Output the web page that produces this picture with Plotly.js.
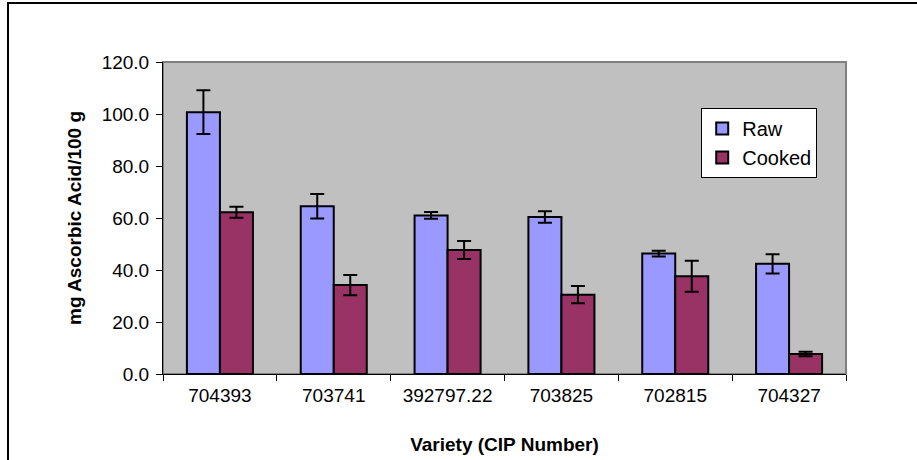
<!DOCTYPE html>
<html>
<head>
<meta charset="utf-8">
<script src="https://cdn.plot.ly/plotly-3.0.1.min.js"></script>
<style>
  html, body { margin: 0; padding: 0; background: #ffffff; }
  #wrap { position: relative; width: 917px; height: 460px; overflow: hidden; }
  #chart { position: absolute; left: 0; top: 0; width: 917px; height: 460px; }
  #frame { position: absolute; left: 7px; top: 2px; width: 1000px; height: 1000px;
           border-left: 2px solid #000; border-top: 2px solid #000; pointer-events: none; }
</style>
</head>
<body>
<div id="wrap">
  <div id="chart"></div>
  <div id="frame"></div>
</div>
<script>
const categories = ["704393", "703741", "392797.22", "703825", "702815", "704327"];
const rawValues = [100.7, 64.5, 61.0, 60.4, 46.3, 42.4];
const rawErrors = [8.4, 4.7, 1.3, 2.2, 1.1, 3.7];
const cookedValues = [62.2, 34.2, 47.7, 30.5, 37.6, 7.7];
const cookedErrors = [2.1, 3.9, 3.5, 3.3, 6.0, 0.9];
const yTickValues = [0, 20, 40, 60, 80, 100, 120];

const font = "Arial, 'Liberation Sans', sans-serif";

const traces = [
  {
    type: "bar", name: "Raw", x: categories, y: rawValues,
    marker: { color: "#9999FF", line: { color: "#000000", width: 2 } },
    error_y: { type: "data", array: rawErrors, visible: true, color: "#000000", thickness: 2, width: 7 }
  },
  {
    type: "bar", name: "Cooked", x: categories, y: cookedValues,
    marker: { color: "#993366", line: { color: "#000000", width: 2 } },
    error_y: { type: "data", array: cookedErrors, visible: true, color: "#000000", thickness: 2, width: 7 }
  }
];

const layout = {
  width: 917, height: 460,
  margin: { l: 163, r: 71, t: 62, b: 86 },
  paper_bgcolor: "#ffffff",
  plot_bgcolor: "#C0C0C0",
  barmode: "group",
  bargap: 0.42,
  bargroupgap: 0,
  font: { family: font, size: 19, color: "#000000" },
  showlegend: true,
  legend: {
    x: 0.788, y: 0.8526, xanchor: "left", yanchor: "top",
    bgcolor: "#ffffff", bordercolor: "#000000", borderwidth: 1,
    font: { family: font, size: 20, color: "#000000" },
    tracegroupgap: 0
  },
  xaxis: {
    type: "category",
    showline: true, linecolor: "#000000", linewidth: 1,
    ticks: "outside", tickson: "boundaries", ticklen: 6, tickcolor: "#000000", tickwidth: 1,
    ticklabelstandoff: 4,
    showgrid: false, zeroline: false,
    tickfont: { family: font, size: 19, color: "#000000" },
    title: { text: "<b>Variety (CIP Number)</b>", font: { family: font, size: 19, color: "#000000" }, standoff: 32 }
  },
  yaxis: {
    range: [0, 120],
    tickvals: yTickValues,
    tickformat: ".1f",
    showline: true, linecolor: "#000000", linewidth: 1,
    ticks: "outside", ticklen: 6, tickcolor: "#000000", tickwidth: 1,
    ticklabelstandoff: 3,
    showgrid: false, zeroline: false,
    tickfont: { family: font, size: 19, color: "#000000" },
    title: { text: "<b>mg Ascorbic Acid/100 g</b>", font: { family: font, size: 19, color: "#000000" }, standoff: 15 }
  },
  shapes: [
    { type: "rect", xref: "paper", yref: "paper", x0: 0, x1: 1, y0: 0, y1: 1,
      line: { color: "#808080", width: 2 }, fillcolor: "rgba(0,0,0,0)", layer: "below" }
  ]
};

Plotly.newPlot("chart", traces, layout, { staticPlot: true, displayModeBar: false });
</script>
</body>
</html>
